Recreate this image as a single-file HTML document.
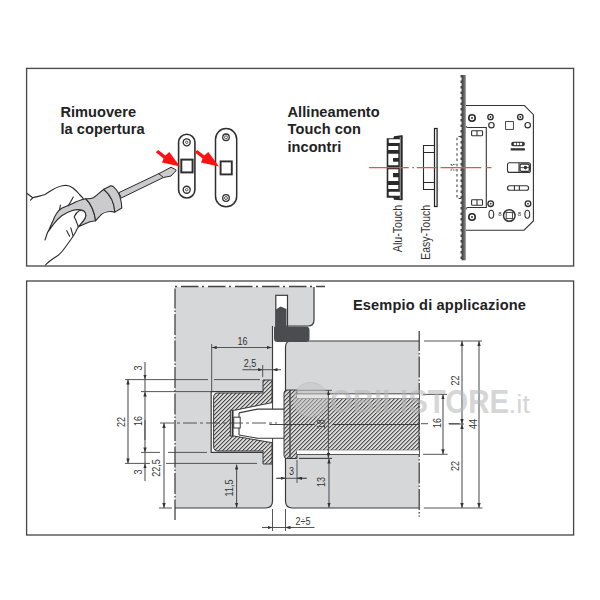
<!DOCTYPE html>
<html><head><meta charset="utf-8">
<style>
html,body{margin:0;padding:0;background:#fff;}
body{width:600px;height:600px;overflow:hidden;}
svg{display:block;}
text{font-family:"Liberation Sans",sans-serif;}
.t{font-weight:bold;font-size:14.6px;fill:#222;}
.d{font-size:10.5px;fill:#333;}
.s{font-size:12.5px;fill:#333;}
</style></head><body>
<svg width="600" height="600" viewBox="0 0 600 600">
<defs>
<pattern id="h" patternUnits="userSpaceOnUse" width="2.83" height="4" patternTransform="rotate(45)">
<rect width="2.83" height="4" fill="#f6f6f6"/><rect x="0" width="1.2" height="4" fill="#474747"/>
</pattern>
<marker id="ar" markerUnits="userSpaceOnUse" markerWidth="5" markerHeight="3.4" refX="5" refY="1.7" orient="auto-start-reverse"><path d="M0,0L5,1.7L0,3.4z" fill="#333"/></marker>
</defs>
<!-- boxes -->
<rect x="26.6" y="68.4" width="547" height="197.6" fill="none" stroke="#4a4a4a" stroke-width="1.35"/>
<rect x="26.6" y="281" width="547" height="254" fill="none" stroke="#4a4a4a" stroke-width="1.35"/>


<!-- hand & screwdriver -->
<g stroke="#2a2a2a" stroke-width="1.1" stroke-linejoin="round" stroke-linecap="round">
<path d="M119.2,192.5L158.75,173.7L171,167.3L175.7,169.6L176,170.8L171,176L163.4,177.5L121.7,197.8Z" fill="#cbcbcd" stroke-width="1"/>
<path d="M158.75,173.7L163.4,177.5" fill="none" stroke-width="1"/>
<path d="M85.7,198.7C80,200 76,201.5 73.3,203.3C69,205.5 64,207 61.7,208.3C59,210 57.5,211.5 56.7,213.3C55,216 54,218 53.3,220C51.5,224 50,227.5 49.2,229.2L47.5,232.5C50,229 52,226 54.2,223.3C56.5,220.5 59,218 61.7,215.8C65,213.5 68,212 71.7,210.8C74,210 77,209.5 79.2,209.6C81.5,209.8 83.5,210.5 84.2,211.3C85.5,212.5 86,214 85.8,215.8C85.5,218 84.5,219.5 83.3,220.8C81.5,223 80,225 78.3,226.7C82,225.5 86,223 90,221.7C92,221.3 94,221 95.6,220.8C94.5,212 91,204 85.7,198.7Z" fill="#cbcbcd"/>
<path d="M85.7,198.7C89,199 92,198.5 93.8,197.5C97,195.5 100,192 103.8,189.3C110.5,195 114.5,204 114.8,212.1C110,211 104,212 100.8,215C99,217 97,219.5 95.6,220.8C94.5,212 91,204 85.7,198.7Z" fill="#cbcbcd"/>
<path d="M103.8,189.3L110.8,185.8L113.1,186.4C116,189 117.5,191 118.3,192.8C120.5,197 121.5,202 121.8,208L114.8,212.1C114.5,204 110.5,195 103.8,189.3Z" fill="#cbcbcd"/>
<path d="M74.2,216.7C75.5,214 77,212 79.2,210.8C81,210.2 83,210.8 84.2,211.3C85.5,212.5 86,214 85.8,215.8C85.5,218 84.5,219.5 83.3,220.8C81.5,223 80,225 78.3,226.7C77.5,224.5 76.5,222 76,220.5C75.3,219 74.7,218 74.2,216.7Z" fill="#fff"/>
<path d="M27.5,193.7L32.7,197.8L30.5,200.2M32.7,197.8C37,196.5 42,195.8 45,194.5C48,193 50,191 52,190C56,187.5 60,185.5 65.7,185.2C68,185.2 71,186.5 73,188C76,190.5 78,192.5 79.5,194.5C81,196 82.5,197.5 83.3,198.7" fill="none"/>
<path d="M73.3,197.1L70.5,202L68.3,205.8M60.4,205L59.6,209.6" fill="none"/>
<path d="M66.7,230.8L69.6,236.25M70.8,227.9L72.9,235.4" fill="none"/>
<path d="M78.3,226.7C77.5,228.5 76.5,230 75.8,231.7C74.5,234 73,236.5 71.7,238.3C68,243.5 65,248 62,251.5C60,254 58,255.5 56,256.7C52,259.5 48,262 45.5,265" fill="none"/>
<path d="M47.5,232.5L45,240" fill="none"/>
</g>
<!-- strike plates -->
<g fill="#fff" stroke="#2f2f2f">
<rect x="178.6" y="134.2" width="16.3" height="63.8" rx="8.15" stroke-width="1.6"/>
<circle cx="186.7" cy="142.3" r="3.5" stroke-width="1.35"/>
<circle cx="186.7" cy="142.3" r="1.2" stroke-width="0.8"/>
<circle cx="186.7" cy="189.7" r="3.5" stroke-width="1.35"/>
<circle cx="186.7" cy="189.7" r="1.2" stroke-width="0.8"/>
<rect x="181.3" y="159.6" width="11.3" height="12.8" stroke-width="2"/>
<rect x="215.5" y="128.6" width="21.2" height="78.2" rx="10.6" stroke-width="1.5"/>
<circle cx="226" cy="137.3" r="3.3" stroke-width="1.3"/>
<circle cx="226" cy="137.3" r="1.5" stroke-width="0.8"/>
<circle cx="226" cy="198" r="3.3" stroke-width="1.3"/>
<circle cx="226" cy="198" r="1.5" stroke-width="0.8"/>
<rect x="220.6" y="161.4" width="11.2" height="13" stroke-width="1.9"/>
</g>
<g fill="#fe1111">
<path d="M155.8,152.3L158.2,149.9L165.3,155.4L169.3,152L180,166.5L162,162.5L163.6,158.6Z"/>
<path d="M194.8,152.3L197.2,149.9L204.3,155.4L208.3,152L219,166.5L201,162.5L202.6,158.6Z"/>
</g>

<!-- Alu-Touch -->
<path d="M386.7,138.3H393.3L394,136.3L401.3,135.3H402.7V200.3H401.3L394,199.7L393.3,197.7H386.7Z" fill="#2a2a2a"/>
<g fill="#fff">
<rect x="388.7" y="139.3" width="11.3" height="3.7" rx="0.8"/>
<rect x="388.3" y="146" width="10" height="4"/>
<path d="M388.3,153.7H398.3V158H393V161.7H398.3V165.3H388.3Z"/>
<path d="M388.3,169.3H398.3V173H393V177.3H398.3V181H388.3Z"/>
<rect x="388.3" y="185" width="10" height="4"/>
<rect x="388.7" y="191.7" width="11.3" height="4" rx="0.8"/>
<rect x="399.8" y="137" width="0.7" height="62" fill="#ddd"/>
</g>
<!-- Easy-Touch -->
<g fill="#fff" stroke="#2a2a2a" stroke-width="1.1">
<rect x="434.5" y="128.5" width="2.6" height="78" fill="#fff" stroke="#222" stroke-width="1.25"/>
<path d="M434.5,145.5H423.5V189.5H434.5M423.5,152.5H434.5M423.5,182.5H434.5" fill="none"/>
</g>
<text class="s" transform="translate(401.9,252.2) rotate(-90)" textLength="47.3" lengthAdjust="spacingAndGlyphs">Alu-Touch</text>
<text class="s" transform="translate(429.9,259.8) rotate(-90)" textLength="54.9" lengthAdjust="spacingAndGlyphs">Easy-Touch</text>
<!-- lock body -->
<g fill="none" stroke="#333" stroke-width="1.1">
<path d="M466,105.5H524.4L533.4,114.7V221L524,230.2H466"/>
<path d="M466,126Q466,127.5 468,127.5H486.3V207.5H468Q466,207.5 466,209.5"/>
<rect x="471.6" y="130.8" width="10.9" height="5" rx="0.8"/>
<path d="M477,130.8V135.8"/>
<rect x="471.6" y="199.7" width="10.9" height="5.5" rx="0.8"/>
<path d="M477,199.7V205.2"/>
<rect x="505.6" y="121.6" width="7.8" height="7.8" stroke-width="0.9"/>
<circle cx="491.4" cy="125.2" r="2.7" stroke-width="1.2"/>
<circle cx="527.7" cy="125.2" r="2.7" stroke-width="1.2"/>
<rect x="507.5" y="162.8" width="22.9" height="9.6" rx="2"/>
<path d="M519,162.8V172.4"/>
<rect x="520" y="164" width="9.3" height="7.3" rx="1.5" stroke-width="1.3"/>
<path d="M520,167.6H531" stroke-width="0.8"/>
<rect x="507.5" y="185.7" width="21.1" height="4.6" rx="2.3"/>
<path d="M514.4,185.7V190.3M519.4,185.7V190.3"/>
<ellipse cx="491.3" cy="214.3" rx="2.4" ry="4"/>
<ellipse cx="527.3" cy="214.3" rx="2.4" ry="4"/>
<circle cx="509.3" cy="215.5" r="5.8" stroke-width="1.5"/>
<rect x="506.2" y="212.4" width="6.2" height="6.2" stroke-width="0.9"/>
</g>
<g fill="#fff" stroke="#2a2a2a" stroke-width="1.3">
<circle cx="472" cy="118" r="3.2" stroke-width="1.6"/>
<circle cx="490.5" cy="117" r="2.7"/>
<circle cx="520.3" cy="117" r="2.7"/>
<circle cx="490.7" cy="203.7" r="2.8"/>
<circle cx="528" cy="203.7" r="2.8"/>
<circle cx="472" cy="217" r="3.2" stroke-width="1.6"/>
</g>
<g fill="#333">
<circle cx="472" cy="118" r="1"/><circle cx="490.5" cy="117" r="0.9"/><circle cx="520.3" cy="117" r="0.9"/>
<circle cx="490.7" cy="203.7" r="0.9"/><circle cx="528" cy="203.7" r="0.9"/><circle cx="472" cy="217" r="1"/>
<rect x="511.1" y="141.7" width="13.8" height="4.6" rx="2.3"/>
<rect x="510.7" y="148.2" width="14.2" height="2.3"/>
<circle cx="525.4" cy="167.6" r="1.8"/>
<text x="500" y="216" font-size="6" text-anchor="middle">8</text>
<text x="519.3" y="216" font-size="6" text-anchor="middle">8</text>
</g>
<g fill="#fff"><circle cx="515" cy="144" r="1.3"/><circle cx="518" cy="144" r="1.3"/><circle cx="521" cy="144" r="1.3"/></g>
<!-- dashed strike outline -->
<path d="M461,136.5H457V198.5H461" fill="none" stroke="#444" stroke-width="1.1" stroke-dasharray="2.5,2.7"/>
<path d="M450.5,164.5H456M450.5,170H456M452,164.5V170" fill="none" stroke="#333" stroke-width="0.8" stroke-dasharray="1.5,1"/>
<!-- faceplate -->
<defs><linearGradient id="fp" x1="0" x2="1"><stop offset="0" stop-color="#3a3a3a"/><stop offset="0.6" stop-color="#6a6a6a"/><stop offset="1" stop-color="#8a8a8a"/></linearGradient></defs>
<rect x="461.6" y="75" width="4.2" height="185.3" fill="url(#fp)"/>
<path d="M461.2,75V260.3" fill="none" stroke="#333" stroke-width="1.3" stroke-dasharray="2.5,3"/>
<!-- red center line -->
<path d="M369.1,167.6H408.8M412.3,167.6H414M416.9,167.6H437M440.5,167.6H481.3M486,167.6H491.5" stroke="#f0503c" stroke-width="1.2"/>
<!-- UPPER BOX TEXT -->
<text class="t" x="60.5" y="116.7" textLength="75.5">Rimuovere</text>
<text class="t" x="60.5" y="133.5" textLength="84">la copertura</text>
<text class="t" x="287.5" y="116.7" textLength="92.2">Allineamento</text>
<text class="t" x="287.5" y="134.2" textLength="73.5">Touch con</text>
<text class="t" x="287.5" y="152.2" textLength="53.7">incontri</text>

<!-- LOWER BOX -->
<!-- gray regions -->
<g fill="#d6d7d9">
<path d="M175,287H314V320Q314,326 308,326H272.5V501Q272.5,508 265.5,508H175Z"/>
<path d="M291,341H419V508H292.5Q285.5,508 285.5,501V347Q285.5,341 291,341Z"/>
</g>
<!-- solid outlines of gray regions -->
<g fill="none" stroke="#3a3a3a" stroke-width="1.2">
<path d="M314,287V320Q314,326 308,326H287.5"/>
<path d="M272.5,326V409.1M272.5,438.3V501Q272.5,508 265.5,508H175"/>
<path d="M419,341H291Q285.5,341 285.5,347V390"/>
<path d="M285.5,458V501Q285.5,508 292.5,508H419"/>
</g>
<!-- dash-dot outlines -->
<g fill="none" stroke="#444" stroke-width="1.3">
<path d="M175,286.5H325" stroke-dasharray="2,4,17.5,3.5"/>
<path d="M175,288.5V520" stroke-dasharray="21,2,1.5,2" stroke-dashoffset="1"/>
<path d="M419.2,331V516.7" stroke-dasharray="21,2,1.5,2" stroke-dashoffset="1"/>
</g>
<!-- slot + gasket -->
<rect x="275.8" y="295.3" width="11.7" height="31" fill="#fff" stroke="#3a3a3a" stroke-width="1.2"/>
<path d="M276,309.5L280.5,306.5L286.5,309V326.5H306Q309.5,326.5 309.5,330V338.5Q309.5,342 306,342H277.5Q274,342 274,338.5V326.5H276Z" fill="#4b4c50"/>
<!-- pocket -->
<path d="M272,391.6H211.2V452.4H272" fill="#fff" stroke="#3a3a3a" stroke-width="1.2"/>
<!-- latch -->
<path d="M218,393H263V380H272V464H263V451H218Q213.6,451 213.6,446.6V397.4Q213.6,393 218,393Z" fill="url(#h)"/>
<path d="M272,409.1V380H263V393H218Q213.6,393 213.6,397.4V446.6Q213.6,451 218,451H263V464H272V438.3" fill="none" stroke="#3a3a3a" stroke-width="1"/>
<path d="M230.4,410.2H234.8L272.1,402.6V442.7L234.8,436.2H230.4Z" fill="#fff"/>
<path d="M272.1,402.6L234.8,410.2H230.4V436.2H234.8L272.1,442.7" fill="none" stroke="#3a3a3a" stroke-width="1"/>
<rect x="271" y="409.6" width="3" height="28.2" fill="#fff"/>
<path d="M232.6,410.2V436.2" stroke="#333" stroke-width="1.9"/>
<path d="M239,412.9L257.5,409.1H284M239,435L257.5,438.3H284M239,412.9V435" fill="none" stroke="#3a3a3a" stroke-width="1.1"/>
<rect x="233.7" y="417.2" width="6.5" height="10.8" fill="#fff" stroke="#3a3a3a" stroke-width="1"/>
<!-- strike -->
<path d="M287,390H297V398.3H419V450.3H297V458.5H287Q284,458.5 284,455.5V393Q284,390 287,390Z" fill="url(#h)" stroke="#3a3a3a" stroke-width="1"/>
<path d="M290,390V458.5" stroke="#3a3a3a" stroke-width="1.2"/>
<rect x="297" y="394.3" width="122" height="4" fill="#fff"/>
<rect x="297" y="450.3" width="122" height="4" fill="#fff"/>
<path d="M297,390.3H332M297,393.8H419M297,454.5H419M299,458.5H332" stroke="#444" stroke-width="0.9"/>

<text class="t" x="352.9" y="310" textLength="173">Esempio di applicazione</text>


<!-- dimension lines -->
<g fill="none" stroke="#444" stroke-width="0.9">
<path d="M125,379.6H208M214,379.6H260"/>
<path d="M141,391.6H211"/>
<path d="M141,452.4H160M168,452.4H207"/>
<path d="M125,463.4H150M166,463.4H257"/>
<path d="M211.7,344V391"/>
<path d="M159,508H172"/>
<path d="M262.7,365V377M262,369.7H272.5"/>
<path d="M297,460V483M276,478.3H307"/>
<path d="M272.5,509V531M285.5,509V531M262,527.5H314.5"/>
<path d="M299,458.3H332"/>
<path d="M424,341H482M423,394.4H447M423,454.3H447.6M423.8,508H482.5"/>
<path d="M449,424H464"/>
</g>
<g fill="none" stroke="#555" stroke-width="1.1" marker-start="url(#ar)" marker-end="url(#ar)">
<path d="M128,379.6V463.4"/>
<path d="M164,423V508"/>
<path d="M211.7,347.5H271.7"/>
<path d="M236.6,464.5V507.7"/>
<path d="M329,458.5V507.7"/>
<path d="M328.4,390.3V458"/>
<path d="M443,394.4V454.3"/>
<path d="M462,341V424"/>
<path d="M462,424V508"/>
<path d="M479,341V508"/>
</g>
<g fill="none" stroke="#555" stroke-width="1.1" marker-end="url(#ar)">
<path d="M145,362V379.6"/>
<path d="M145,379.6V391.6M145,452.4V463.4" marker-end="none"/>
<path d="M145,440V391.6"/>
<path d="M145,420V452.4"/>
<path d="M145,481V463.4"/>
<path d="M242.5,369.7H262.7"/>
<path d="M281,369.7H272.5"/>
<path d="M277,478.3H285.5"/>
<path d="M306,478.3H297"/>
<path d="M262,527.5H272.5"/>
<path d="M294,527.5H285.5"/>
</g>
<g fill="none" stroke="#444" stroke-width="0.9" stroke-dasharray="14,3,3,3">
<path d="M160,423H277"/>
<path d="M269.4,424.5H314.7M332.7,424.5H419" stroke-dasharray="none" stroke="#333"/>
<path d="M421,423.7H428M448.5,423.7H459.5" stroke-dasharray="none"/>
</g>
<g class="d" text-anchor="middle">
<text transform="translate(242.5,345) scale(0.86,1)">16</text>
<text transform="translate(250,366.5) scale(0.86,1)">2,5</text>
<text transform="translate(291.5,475) scale(0.86,1)">3</text>
<text transform="translate(303,524.5) scale(0.86,1)">2÷5</text>
<text transform="translate(125,422) rotate(-90) scale(0.86,1)">22</text>
<text transform="translate(142,368) rotate(-90) scale(0.86,1)">3</text>
<text transform="translate(142,421) rotate(-90) scale(0.86,1)">16</text>
<text transform="translate(142,472) rotate(-90) scale(0.86,1)">3</text>
<text transform="translate(160,468) rotate(-90) scale(0.86,1)">22,5</text>
<text transform="translate(233,488) rotate(-90) scale(0.86,1)">11,5</text>
<text transform="translate(325,482) rotate(-90) scale(0.86,1)">13</text>
<text transform="translate(325,424.3) rotate(-90) scale(0.86,1)" fill="#444">18</text>
<text transform="translate(441,423) rotate(-90) scale(0.86,1)">16</text>
<text transform="translate(459,380.5) rotate(-90) scale(0.86,1)">22</text>
<text transform="translate(459,466) rotate(-90) scale(0.86,1)">22</text>
<text transform="translate(477,424) rotate(-90) scale(0.86,1)">44</text>
</g>

<!-- watermark -->
<circle cx="310.7" cy="400" r="17.5" fill="#c4c4c4" opacity="0.5" stroke="#aaa" stroke-width="0.8"/>
<g opacity="0.55" fill="#b5b5b5">
<text x="329.8" y="412.8" font-size="32.5" font-weight="bold" textLength="179.2" lengthAdjust="spacingAndGlyphs">OBILISTORE</text>
<text x="508.5" y="412.8" font-size="25" textLength="21.5" lengthAdjust="spacingAndGlyphs">.it</text>
</g>
</svg>
</body></html>
